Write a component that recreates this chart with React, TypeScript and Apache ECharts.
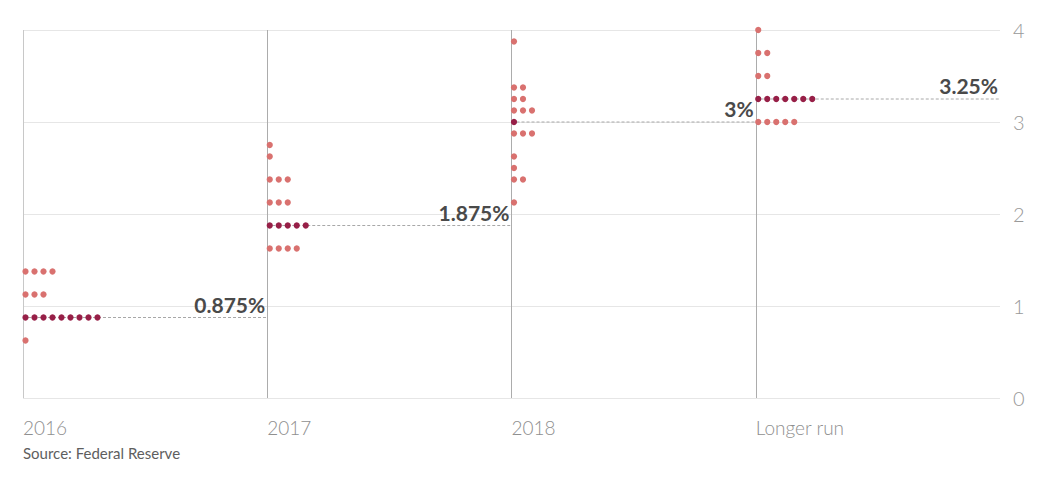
import React, { useEffect, useRef } from "react";
import * as echarts from "echarts";

const categories = ["2016", "2017", "2018", "Longer run"];
const rates2016 = [1.375, 1.125, 0.875, 0.625];
const counts2016 = [4, 3, 9, 1];
const rates2017 = [2.75, 2.625, 2.375, 2.125, 1.875, 1.625];
const counts2017 = [1, 1, 3, 3, 5, 4];
const rates2018 = [3.875, 3.375, 3.25, 3.125, 3.0, 2.875, 2.625, 2.5, 2.375, 2.125];
const counts2018 = [1, 2, 2, 3, 1, 3, 1, 1, 2, 1];
const ratesLong = [4.0, 3.75, 3.5, 3.25, 3.0];
const countsLong = [1, 2, 2, 7, 5];
const medians = [0.875, 1.875, 3, 3.25];
const medianLabels = ["0.875%", "1.875%", "3%", "3.25%"];
const yTicks = [0, 1, 2, 3, 4];

const LIGHT = "#d9716f";
const DARK = "#971f47";
const FONT = "Lato, 'Open Sans', sans-serif";

export default function App() {
  const ref = useRef<HTMLDivElement>(null);
  useEffect(() => {
    if (!ref.current) return;
    const chart = echarts.init(ref.current, null, { renderer: "svg" });
    const allRates = [rates2016, rates2017, rates2018, ratesLong];
    const allCounts = [counts2016, counts2017, counts2018, countsLong];
    const dotData: any[] = [];
    allRates.forEach((rs, ci) => {
      rs.forEach((r, i) => {
        dotData.push([ci, r, allCounts[ci][i], r === medians[ci] ? 1 : 0]);
      });
    });
    const medData = medians.map((m, i) => [i, m, i]);

    chart.setOption({
      animation: false,
      grid: { left: 23, right: 60, top: 30, bottom: 85, containLabel: false },
      xAxis: {
        type: "value",
        min: 0,
        max: 4,
        interval: 1,
        axisLine: { show: false },
        axisTick: { show: false },
        axisLabel: {
          formatter: (v: number) => (v < categories.length ? categories[v] : ""),
          align: "left",
          verticalAlign: "top",
          margin: 20,
          fontSize: 19,
          fontWeight: 300,
          fontFamily: FONT,
          color: "#8f8f8f",
          showMaxLabel: true,
        },
        splitLine: {
          show: true,
          lineStyle: { color: ["#c8c8c8", "#acacac", "#acacac", "#acacac", "rgba(0,0,0,0)"], width: 1 },
        },
      },
      yAxis: {
        type: "value",
        position: "right",
        min: yTicks[0],
        max: yTicks[yTicks.length - 1],
        interval: 1,
        axisLine: { show: false },
        axisTick: { show: false },
        axisLabel: {
          margin: 13,
          fontSize: 20,
          fontWeight: 300,
          fontFamily: FONT,
          color: "#999999",
        },
        splitLine: { show: true, lineStyle: { color: "#e6e6e6", width: 1 } },
      },
      graphic: [
        {
          type: "text",
          left: 23,
          top: 445,
          style: { text: "Source: Federal Reserve", fontSize: 15, fontFamily: FONT, fill: "#5e5e5e" },
        },
      ],
      series: [
        {
          type: "custom",
          name: "median",
          clip: false,
          z: 1,
          data: medData,
          renderItem: (params: any, api: any) => {
            const ci = api.value(0);
            const m = api.value(1);
            const p0 = api.coord([ci, m]);
            const p1 = api.coord([ci + 1, m]);
            return {
              type: "group",
              children: [
                {
                  type: "line",
                  shape: { x1: p0[0], y1: p0[1], x2: p1[0], y2: p1[1] },
                  style: { stroke: "#a8a8a8", lineWidth: 1, lineDash: [3, 2] },
                },
                {
                  type: "text",
                  x: p1[0] - 2,
                  y: p1[1] - 3,
                  style: {
                    text: medianLabels[api.value(2)],
                    textAlign: "right",
                    textVerticalAlign: "bottom",
                    fontSize: 21,
                    fontWeight: "bold",
                    fontFamily: FONT,
                    fill: "#4a4a4a",
                  },
                },
              ],
            };
          },
        },
        {
          type: "custom",
          name: "dots",
          clip: false,
          z: 2,
          data: dotData,
          renderItem: (params: any, api: any) => {
            const p = api.coord([api.value(0), api.value(1)]);
            const n = api.value(2);
            const dark = api.value(3) === 1;
            const children: any[] = [];
            for (let k = 0; k < n; k++) {
              children.push({
                type: "circle",
                shape: { cx: p[0] + 2.5 + k * 9, cy: p[1], r: 3.1 },
                style: { fill: dark ? DARK : LIGHT },
              });
            }
            return { type: "group", children };
          },
        },
      ],
    });
    return () => chart.dispose();
  }, []);
  return (
    <div
      ref={ref}
      style={{ position: "fixed", left: 0, top: 0, width: 1060, height: 483, background: "#fff" }}
    />
  );
}
